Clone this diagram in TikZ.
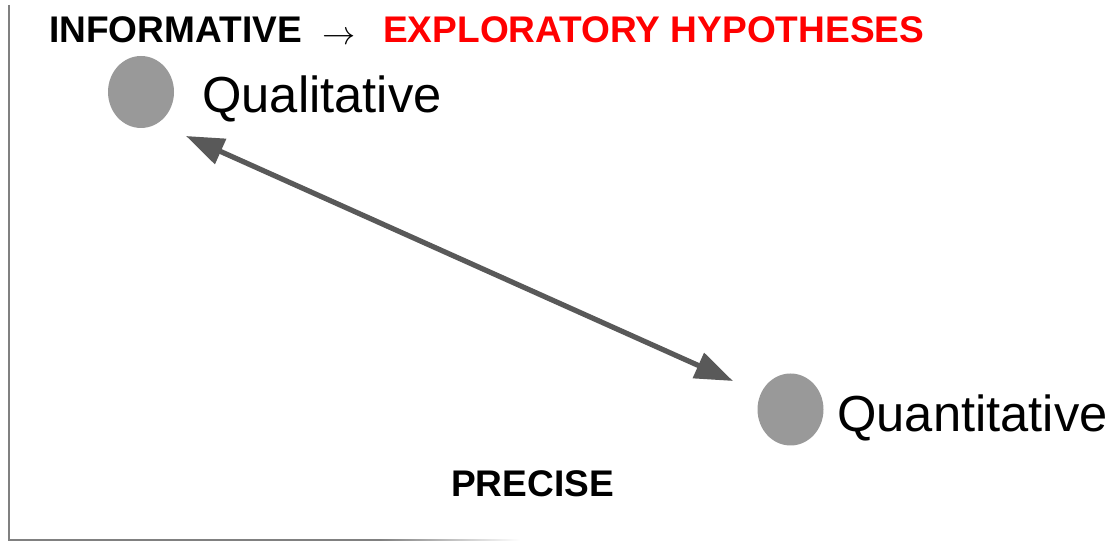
\documentclass[tikz,border=0pt]{standalone}
\usepackage{fontspec}
\setmainfont{Liberation Sans}
\usetikzlibrary{arrows.meta,shapes.geometric}
\definecolor{dotgray}{HTML}{999999}
\definecolor{arrgray}{HTML}{595959}
\definecolor{axisgray}{HTML}{808080}
\definecolor{hypred}{HTML}{FF0000}
\tikzset{
  dot/.style={ellipse, fill=dotgray, draw=none, minimum width=49.5pt, minimum height=54pt, inner sep=0pt},
  bigtxt/.style={anchor=base west, inner sep=0pt, font=\fontsize{38pt}{40pt}\selectfont},
  headtxt/.style={anchor=base west, inner sep=0pt, font=\bfseries\fontsize{27.8pt}{30pt}\selectfont},
  link/.style={draw=arrgray, line width=3.9pt, {Triangle[length=28.5pt,width=20pt]}-{Triangle[length=28.5pt,width=20pt]}},
  axis/.style={draw=axisgray, line width=1.3pt}
}
\begin{document}
\begin{tikzpicture}[x=0.75pt,y=-0.75pt]
\useasboundingbox (0,0) rectangle (1111,541);
% axes
\coordinate (ytop) at (9,5);
\coordinate (orig) at (9,540);
\coordinate (xmid) at (380,540);
\draw[axis] (ytop) -- (orig) -- (xmid);
\shade[left color=axisgray, right color=white] (380,539.35) rectangle (520,540.65);
% title
\node[headtxt, text=black] (inf) at (49,43) {INFORMATIVE};
\node[headtxt, font=\fontsize{38pt}{40pt}\selectfont] (rar) at (322,45) {$\rightarrow$};
\node[headtxt, text=hypred] (hyp) at (383,43) {EXPLORATORY HYPOTHESES};
% dots
\node[dot] (d1) at (141,92) {};
\node[dot] (d2) at (790.5,409.5) {};
\node[bigtxt] (ql) at (202,113) {Qualitative};
\node[bigtxt] (qt) at (837,432) {Quantitative};
\node[headtxt] (pr) at (451,497) {PRECISE};
% connector
\coordinate (a1) at (186,136);
\coordinate (a2) at (733,381);
\draw[link] (a1) -- (a2);
\end{tikzpicture}
\end{document}
